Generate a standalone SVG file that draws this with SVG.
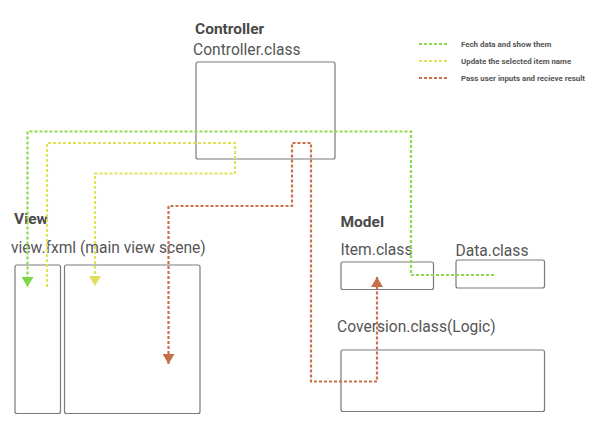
<svg xmlns="http://www.w3.org/2000/svg" width="592" height="429" viewBox="0 0 592 429">
<style>
.box{fill:#fff;stroke:#7a7a7a;stroke-width:1.2}
.h{font-family:Roboto,"Liberation Sans",sans-serif;font-weight:bold;font-size:15.5px;fill:#4a4a4a}
.t{font-family:Roboto,"Liberation Sans",sans-serif;font-size:15.6px;fill:#555}
.lg{font-family:Roboto,"Liberation Sans",sans-serif;font-weight:bold;font-size:7.9px;fill:#555}
.c{fill:none;stroke-width:2.2;stroke-dasharray:3 2}
.g{stroke:#8ed94f}
.y{stroke:#e2e25a}
.o{stroke:#c8704a}
</style>
<defs>
<marker id="ay" viewBox="0 0 10 12" refX="10" refY="6" markerWidth="10" markerHeight="12" markerUnits="userSpaceOnUse" orient="auto-start-reverse"><path d="M0,0 L10,6 L0,12 Z" fill="#e0e05e"/></marker>
<marker id="ao" viewBox="0 0 10 12" refX="10" refY="6" markerWidth="10" markerHeight="12" markerUnits="userSpaceOnUse" orient="auto-start-reverse"><path d="M0,0 L10,6 L0,12 Z" fill="#c5704a"/></marker>
<marker id="ag" viewBox="0 0 10 12" refX="10" refY="6" markerWidth="10" markerHeight="12" markerUnits="userSpaceOnUse" orient="auto-start-reverse"><path d="M0,0 L10,6 L0,12 Z" fill="#7fd64a"/></marker>
</defs>

<g id="controller">
<text class="h" x="195" y="34">Controller</text>
<text class="t" x="193" y="54.5">Controller.class</text>
<rect class="box" x="196" y="62" width="139" height="97" rx="2"/>
</g>

<g id="view">
<text class="h" x="14" y="224">View</text>
<text class="t" x="11" y="253">view.fxml (main view scene)</text>
<rect class="box" x="15" y="265" width="45.5" height="148.5" rx="2"/>
<rect class="box" x="64.5" y="265" width="135.5" height="148.5" rx="2"/>
</g>

<g id="model">
<text class="h" x="340.5" y="226.5">Model</text>
<text class="t" x="340.5" y="255">Item.class</text>
<text class="t" x="455.5" y="256">Data.class</text>
<rect class="box" x="341" y="262" width="92.5" height="27.5" rx="2"/>
<rect class="box" x="456" y="260" width="88.5" height="28" rx="2"/>
<text class="t" x="337" y="331.5">Coversion.class(Logic)</text>
<rect class="box" x="341" y="350" width="203.5" height="61.5" rx="2"/>
</g>

<g id="legend">
<line class="c g" x1="419" y1="44" x2="448" y2="44"/>
<text class="lg" x="461" y="46.5">Fech data and show them</text>
<line class="c y" x1="419" y1="61" x2="448" y2="61"/>
<text class="lg" x="461" y="63.5">Update the selected item name</text>
<line class="c o" x1="419" y1="78" x2="448" y2="78"/>
<text class="lg" x="461" y="80.5">Pass user inputs and recieve result</text>
</g>

<g id="connectors">
<path class="c g" d="M494,275 H411 V131.5 H27.5 V287" marker-end="url(#ag)"/>
<path class="c y" d="M47,287 V143 H235 V173.5 H95 V286" marker-end="url(#ay)"/>
<path class="c o" d="M168.5,364 V206 H292 V143 H311 V381.5 H377 V277" marker-start="url(#ao)" marker-end="url(#ao)"/>
</g>
</svg>
